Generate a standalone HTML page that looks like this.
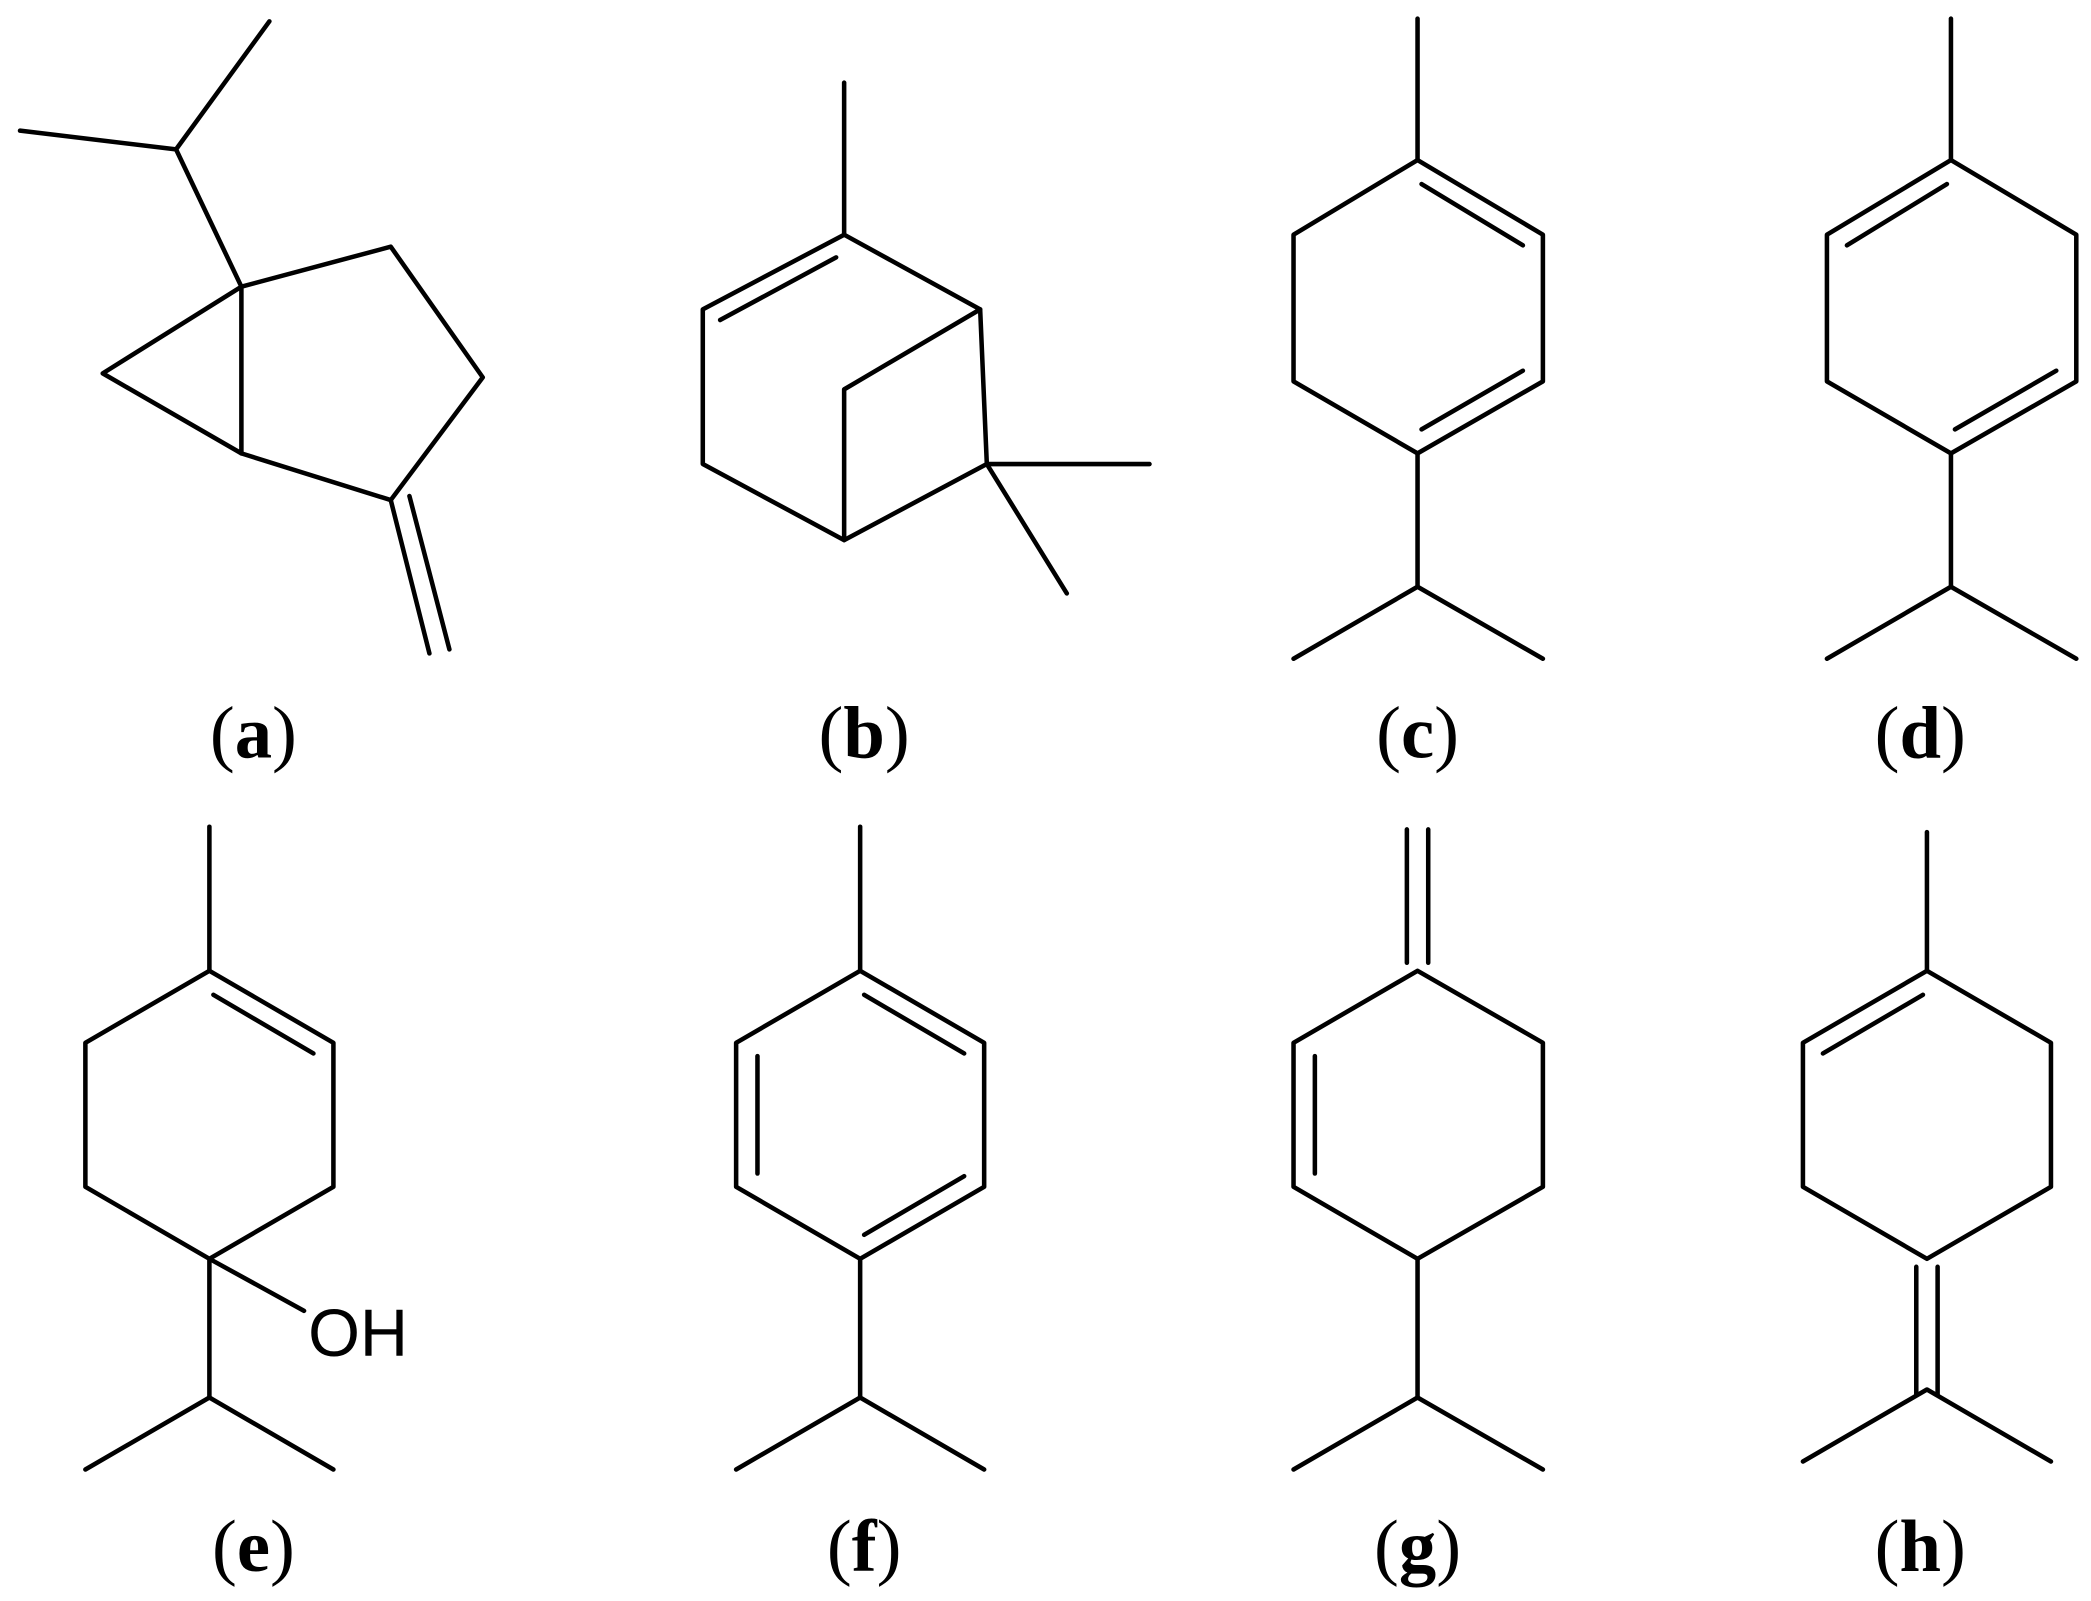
<!DOCTYPE html>
<html><head><meta charset="utf-8"><style>html,body{margin:0;padding:0;background:#fff}svg{display:block}</style></head>
<body>
<svg width="2091" height="1601" viewBox="0 0 1568 1200.6" xmlns="http://www.w3.org/2000/svg">
<g stroke="#000" stroke-width="3.4" fill="none" stroke-linecap="round" stroke-linejoin="round">
<!-- a -->
<polyline points="15,98 132,112 202,16"/>
<line x1="132" y1="112" x2="181" y2="215"/>
<polygon points="181,215 77,280 181,340"/>
<polyline points="181,215 293,185 362,283 293,375 181,340"/>
<line x1="293" y1="375" x2="322" y2="490"/>
<line x1="307" y1="372" x2="337" y2="487"/>
<!-- b -->
<line x1="633" y1="62" x2="633" y2="176"/>
<polygon points="633,176 527,232 527,348 633,405 740,348 735,232"/>
<line x1="627" y1="193" x2="540" y2="240"/>
<polyline points="735,232 633,292 633,405"/>
<line x1="740" y1="348" x2="862" y2="348"/>
<line x1="740" y1="348" x2="800" y2="445"/>
<!-- c -->
<line x1="1063" y1="14" x2="1063" y2="120"/>
<polygon points="1063,120 1157,176 1157,286 1063,340 970,286 970,176"/>
<line x1="1066" y1="138" x2="1142" y2="184"/>
<line x1="1142" y1="278" x2="1066" y2="322"/>
<polyline points="970,494 1063,440 1157,494"/>
<line x1="1063" y1="340" x2="1063" y2="440"/>
<!-- d -->
<line x1="1463" y1="14" x2="1463" y2="120"/>
<polygon points="1463,120 1557,176 1557,286 1463,340 1370,286 1370,176"/>
<line x1="1460" y1="138" x2="1385" y2="184"/>
<line x1="1542" y1="278" x2="1466" y2="322"/>
<polyline points="1370,494 1463,440 1557,494"/>
<line x1="1463" y1="340" x2="1463" y2="440"/>
<!-- e -->
<line x1="157" y1="620" x2="157" y2="728"/>
<polygon points="157,728 250,782 250,890 157,944 64,890 64,782"/>
<line x1="160" y1="746" x2="235" y2="790"/>
<line x1="157" y1="944" x2="228" y2="983"/>
<line x1="157" y1="944" x2="157" y2="1048"/>
<polyline points="64,1102 157,1048 250,1102"/>
<!-- f -->
<line x1="645" y1="620" x2="645" y2="728"/>
<polygon points="645,728 738,782 738,890 645,944 552,890 552,782"/>
<line x1="648" y1="746" x2="723" y2="790"/>
<line x1="568" y1="792" x2="568" y2="880"/>
<line x1="723" y1="882" x2="648" y2="926"/>
<line x1="645" y1="944" x2="645" y2="1048"/>
<polyline points="552,1102 645,1048 738,1102"/>
<!-- g -->
<line x1="1055" y1="622" x2="1055" y2="722"/>
<line x1="1071" y1="622" x2="1071" y2="722"/>
<polygon points="1063,728 1157,782 1157,890 1063,944 970,890 970,782"/>
<line x1="986" y1="792" x2="986" y2="880"/>
<line x1="1063" y1="944" x2="1063" y2="1048"/>
<polyline points="970,1102 1063,1048 1157,1102"/>
<!-- h -->
<line x1="1445" y1="624" x2="1445" y2="728"/>
<polygon points="1445,728 1538,782 1538,890 1445,944 1352,890 1352,782"/>
<line x1="1442" y1="746" x2="1367" y2="790"/>
<line x1="1437" y1="950" x2="1437" y2="1046"/>
<line x1="1453" y1="950" x2="1453" y2="1046"/>
<polyline points="1352,1096 1445,1042 1538,1096"/>
</g>
<text x="231" y="1017" font-family="Liberation Sans, sans-serif" font-size="50">OH</text>
<g font-family="Liberation Serif, serif" font-size="56" text-anchor="middle" font-weight="normal">
<text x="190" y="568">(<tspan font-weight="bold">a</tspan>)</text>
<text x="648" y="568">(<tspan font-weight="bold">b</tspan>)</text>
<text x="1063" y="568">(<tspan font-weight="bold">c</tspan>)</text>
<text x="1440" y="568">(<tspan font-weight="bold">d</tspan>)</text>
<text x="190" y="1178">(<tspan font-weight="bold">e</tspan>)</text>
<text x="648" y="1178">(<tspan font-weight="bold">f</tspan>)</text>
<text x="1063" y="1178">(<tspan font-weight="bold">g</tspan>)</text>
<text x="1440" y="1178">(<tspan font-weight="bold">h</tspan>)</text>
</g>
</svg>
</body></html>
